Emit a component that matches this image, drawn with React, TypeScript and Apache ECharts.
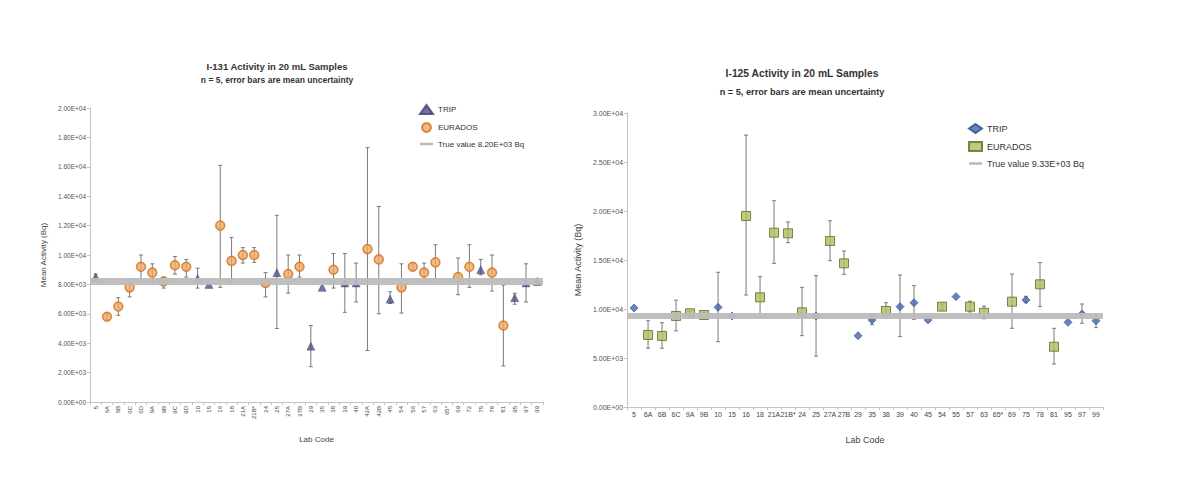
import React, { useEffect, useRef } from "react";
import * as echarts from "echarts";

// ---------- Left chart: I-131 ----------
const LAB_L = ["5","6A","6B","6C","6D","9A","9B","9C","9D","10","15","16","18","21A","21B*","24","25","27A","27B","29","35","38","39","40","42A","42B","45","54","56","57","63","65*","69","72","75","78","81","95","97","99"];
const TRIP_L = [8500,null,null,null,null,null,null,null,null,8400,8000,null,null,null,null,null,8800,null,null,3800,7800,null,8100,8100,null,null,7000,null,null,null,null,null,null,null,9000,null,null,7100,8100,8200];
const EUR_L = [null,5800,6500,7800,9200,8800,8200,9300,9200,null,null,12000,9600,10000,10000,8100,null,8700,9200,null,null,9000,null,null,10400,9700,null,7800,9200,8800,9500,null,8500,9200,null,8800,5200,null,null,null];
const LO_L = [8300,5600,5900,7150,8200,8200,7750,8700,8500,7750,null,7800,8000,9450,9500,7150,5000,7400,8500,2400,null,7750,6100,6800,3500,6000,6700,6050,9000,8150,8350,null,7300,7800,8650,7550,2450,6650,6800,8000];
const HI_L = [8700,6000,7100,8400,10000,9400,8500,9900,9700,9100,null,16100,11200,10500,10500,8800,12700,10000,10000,5200,null,10100,10100,9450,17300,13300,7500,9400,9400,9450,10700,null,9800,10700,9700,10000,7950,7400,9400,8400];
const TRUE_L = 8200;

// ---------- Right chart: I-125 ----------
const LAB_R = ["5","6A","6B","6C","9A","9B","10","15","16","18","21A","21B*","24","25","27A","27B","29","35","38","39","40","45","54","55","57","63","65*","69","75","78","81","95","97","99"];
const TRIP_R = [10100,null,null,null,null,null,10170,9290,null,null,null,null,null,9290,null,null,7280,8880,null,10240,10640,8880,null,11260,null,null,null,null,10920,null,null,8640,9490,8810];
const EUR_R = [null,7350,7250,9290,9560,9390,null,null,19490,11190,17790,17720,9660,null,16940,14660,null,null,9800,null,null,null,10240,null,10240,9620,null,10750,null,12520,6150,null,null,null];
const LO_R = [null,6000,6000,7760,9300,9150,6660,null,11430,9200,14660,16770,7280,5200,14930,13540,null,8400,9050,7180,8950,null,9950,null,9700,9000,null,8030,10700,10240,4390,null,8540,8100];
const HI_R = [null,8800,8600,10900,9800,9650,13750,null,27750,13300,21050,18880,12210,13400,19010,15920,null,9400,10640,13470,12380,null,10500,null,10800,10300,null,13570,11300,14730,8030,null,10510,9400];
const TRUE_R = 9330;

const FONT = "'Liberation Sans Narrow', 'Liberation Sans', 'Open Sans', sans-serif";

function sci(v: number): string {
  const s = Number(v).toExponential(2);
  const [m, e] = s.split("e");
  const sign = e[0];
  const d = e.slice(1).padStart(2, "0");
  return `${m}E${sign}${d}`;
}

function dash(a: (number | null)[]) {
  return a.map((v) => (v == null ? "-" : v));
}

function errData(lo: (number | null)[], hi: (number | null)[]) {
  const out: any[] = [];
  lo.forEach((l, i) => {
    const h = hi[i];
    if (l != null && h != null) out.push([i, l, h]);
  });
  return out;
}

function renderErr(params: any, api: any) {
  const x = api.value(0);
  const p1 = api.coord([x, api.value(1)]);
  const p2 = api.coord([x, api.value(2)]);
  const c = 2;
  const st = { stroke: "#7a7a7a", lineWidth: 1 };
  return {
    type: "group",
    children: [
      { type: "line", shape: { x1: p1[0], y1: p1[1], x2: p2[0], y2: p2[1] }, style: st },
      { type: "line", shape: { x1: p1[0] - c, y1: p1[1], x2: p1[0] + c, y2: p1[1] }, style: st },
      { type: "line", shape: { x1: p2[0] - c, y1: p2[1], x2: p2[0] + c, y2: p2[1] }, style: st },
    ],
  };
}

function makeOption(c: any): any {
  return {
    animation: false,
    textStyle: { fontFamily: FONT },
    graphic: [
      {
        type: "text",
        x: c.titleX,
        y: c.titleY,
        style: { text: c.title, fontFamily: FONT, fontSize: c.titleSize, fontWeight: "bold", fill: "#333", align: "center", verticalAlign: "middle" },
      },
      {
        type: "text",
        x: c.titleX,
        y: c.subY,
        style: { text: c.sub, fontFamily: FONT, fontSize: c.subSize, fontWeight: "bold", fill: "#333", align: "center", verticalAlign: "middle" },
      },
    ],
    legend: {
      orient: "vertical",
      left: c.legendLeft,
      top: c.legendTop,
      itemWidth: 13,
      itemHeight: 9,
      itemGap: 7,
      textStyle: { fontFamily: FONT, fontSize: c.legendSize, color: "#333" },
      data: [
        "TRIP",
        "EURADOS",
        { name: c.trueName, icon: "path://M0,0h26v5H0z", itemStyle: { color: "#b9b9b9" } },
      ],
    },
    grid: c.grid,
    xAxis: {
      type: "category",
      data: c.labels,
      boundaryGap: true,
      name: "Lab Code",
      nameLocation: "middle",
      nameGap: c.xNameGap,
      nameTextStyle: { fontFamily: FONT, fontSize: c.nameSize, color: "#444" },
      axisLine: { lineStyle: { color: "#c4c4c4" } },
      axisTick: { show: true, length: 3, lineStyle: { color: "#c4c4c4" } },
      axisLabel: { interval: 0, rotate: c.rotate, fontSize: c.xLabelSize, color: "#444", margin: 4, fontFamily: FONT },
      splitLine: { show: false },
    },
    yAxis: {
      type: "value",
      min: 0,
      max: c.max,
      interval: c.interval,
      name: "Mean Activity (Bq)",
      nameLocation: "middle",
      nameGap: c.yNameGap,
      nameTextStyle: { fontFamily: FONT, fontSize: c.nameSize, color: "#444" },
      axisLine: { show: true, lineStyle: { color: "#c4c4c4" } },
      axisTick: { show: true, length: 3, lineStyle: { color: "#c4c4c4" } },
      axisLabel: { fontSize: c.yLabelSize, color: "#555", formatter: (v: number) => sci(v), margin: 4, fontFamily: FONT },
      splitLine: { show: false },
    },
    series: [
      {
        name: c.trueName,
        type: "line",
        data: [],
        symbol: "none",
        z: 1,
        lineStyle: { color: "#b9b9b9", width: 5 },
        itemStyle: { color: "#b9b9b9" },
        markLine: {
          silent: true,
          symbol: ["none", "none"],
          label: { show: false },
          lineStyle: { color: "#bcbcbc", width: c.bandWidth, type: "solid", opacity: 0.95 },
          data: [{ yAxis: c.trueVal }],
        },
      },
      {
        name: "err",
        type: "custom",
        renderItem: renderErr,
        data: errData(c.lo, c.hi),
        encode: { x: 0, y: [1, 2] },
        z: 2,
        silent: true,
      },
      {
        name: "TRIP",
        type: "scatter",
        data: dash(c.trip),
        symbol: c.tripSymbol,
        symbolSize: c.tripSize,
        itemStyle: c.tripStyle,
        z: 3,
      },
      {
        name: "EURADOS",
        type: "scatter",
        data: dash(c.eur),
        symbol: c.eurSymbol,
        symbolSize: c.eurSize,
        itemStyle: c.eurStyle,
        z: 4,
      },
    ],
  };
}

const LEFT_W = 565;
const RIGHT_X = 565;
const RIGHT_W = 1204 - 565;

function Chart({ option, style }: { option: any; style: React.CSSProperties }) {
  const ref = useRef<HTMLDivElement>(null);
  useEffect(() => {
    if (!ref.current) return;
    const chart = echarts.init(ref.current, undefined, { renderer: "svg" });
    chart.setOption(option);
    return () => chart.dispose();
  }, [option]);
  return <div ref={ref} style={style} />;
}

const leftOption = makeOption({
  labels: LAB_L,
  trip: TRIP_L,
  eur: EUR_L,
  lo: LO_L,
  hi: HI_L,
  trueVal: TRUE_L,
  trueName: "True value 8.20E+03 Bq",
  max: 20000,
  interval: 2000,
  grid: { left: 90, right: LEFT_W - 543, top: 108, bottom: 486 - 402 },
  title: "I-131 Activity in 20 mL Samples",
  sub: "n = 5, error bars are mean uncertainty",
  titleX: 277,
  titleY: 66,
  subY: 80,
  titleSize: 9.5,
  subSize: 8.5,
  legendLeft: 414,
  legendTop: 99,
  legendSize: 8,
  tripSymbol: "triangle",
  tripSize: 8,
  tripStyle: { color: "#4d5189", borderColor: "#3a3d70", borderWidth: 0.5 },
  eurSymbol: "circle",
  eurSize: 9,
  eurStyle: { color: "#f0a863", borderColor: "#d0701f", borderWidth: 1.5 },
  rotate: 90,
  xLabelSize: 6,
  yLabelSize: 6.5,
  nameSize: 8,
  xNameGap: 33,
  yNameGap: 42,
  bandWidth: 7,
});

const rightOption = makeOption({
  labels: LAB_R,
  trip: TRIP_R,
  eur: EUR_R,
  lo: LO_R,
  hi: HI_R,
  trueVal: TRUE_R,
  trueName: "True value 9.33E+03 Bq",
  max: 30000,
  interval: 5000,
  grid: { left: 627 - RIGHT_X, right: 1204 - 1103, top: 113, bottom: 486 - 407 },
  title: "I-125 Activity in 20 mL Samples",
  sub: "n = 5, error bars are mean uncertainty",
  titleX: 802 - RIGHT_X,
  titleY: 73,
  subY: 92,
  titleSize: 10.3,
  subSize: 9.2,
  legendLeft: 963 - RIGHT_X,
  legendTop: 118,
  legendSize: 9,
  tripSymbol: "diamond",
  tripSize: 8,
  tripStyle: { color: "#4466ad", borderColor: "#2c4a8a", borderWidth: 0.8 },
  eurSymbol: "rect",
  eurSize: 9,
  eurStyle: { color: "#a9c25e", borderColor: "#5c6a28", borderWidth: 1 },
  rotate: 0,
  xLabelSize: 7,
  yLabelSize: 7,
  nameSize: 9,
  xNameGap: 28,
  yNameGap: 45,
  bandWidth: 6,
});

export default function App() {
  return (
    <div style={{ position: "fixed", left: 0, top: 0, width: 1204, height: 486, background: "#fff" }}>
      <Chart option={leftOption} style={{ position: "absolute", left: 0, top: 0, width: LEFT_W, height: 486 }} />
      <Chart option={rightOption} style={{ position: "absolute", left: RIGHT_X, top: 0, width: RIGHT_W, height: 486 }} />
    </div>
  );
}
